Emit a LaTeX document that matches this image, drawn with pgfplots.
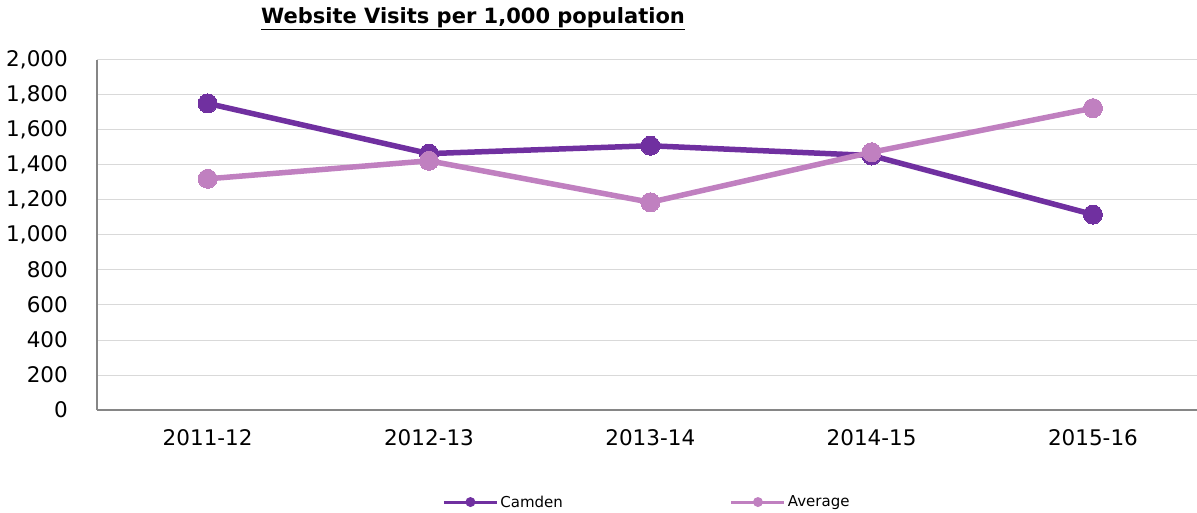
\documentclass[border=0pt]{standalone}
\usepackage{pgfplots}
\pgfplotsset{compat=1.18}
\usepackage{fontspec}
\setmainfont{DejaVu Sans}
\definecolor{camden}{HTML}{7030A0}
\definecolor{avg}{HTML}{C080C0}
\definecolor{axisgray}{HTML}{868686}
\definecolor{gridgray}{HTML}{D9D9D9}
\begin{document}
\begin{tikzpicture}
\useasboundingbox (-97bp,-103bp) rectangle (1100bp,410bp);
\begin{axis}[
  at={(0,0)}, anchor=south west,
  scale only axis, width=1100bp, height=350bp,
  xmin=-0.5, xmax=4.47, ymin=0, ymax=2000,
  axis x line=bottom, axis y line=left,
  axis line style={draw=axisgray, line width=1.5bp, -},
  xtick={0,1,2,3,4},
  xticklabels={2011-12,2012-13,2013-14,2014-15,2015-16},
  ytick={0,200,...,2000},
  ymajorgrids, grid style={draw=gridgray, line width=1bp},
  major tick length=0pt,
  /pgf/number format/assume math mode=true,
  /pgf/number format/1000 sep={,},
  ticklabel style={font=\fontsize{21.5bp}{25bp}\selectfont, text=black},
  yticklabel style={inner sep=0pt, xshift=-29bp},
  xticklabel style={inner sep=0pt, yshift=-19bp},
  clip=false,
  legend columns=2,
  legend style={at={(0.5,-0.263)}, anchor=center, draw=none, fill=none,
    font=\fontsize{15bp}{18bp}\selectfont, column sep=0pt,
    /tikz/every even column/.append style={column sep=165bp}},
]
\addplot[camden, line width=5.5bp, mark=*, mark size=9.5bp, mark options={solid, fill=camden, draw=camden, line width=0pt},
  legend image code/.code={\draw[camden, line width=3bp] (0bp,0bp) -- (53bp,0bp); \fill[camden, draw=none] (26.5bp,0bp) circle (5bp);}]
  coordinates {(0,1752) (1,1465) (2,1510) (3,1454) (4,1117)};
\addlegendentry{Camden}
\addplot[avg, line width=5.5bp, mark=*, mark size=9.5bp, mark options={solid, fill=avg, draw=avg, line width=0pt},
  legend image code/.code={\draw[avg, line width=3bp] (0bp,0bp) -- (53bp,0bp); \fill[avg, draw=none] (26.5bp,0bp) circle (5bp);}]
  coordinates {(0,1321) (1,1424) (2,1187) (3,1473) (4,1725)};
\addlegendentry{Average}
\end{axis}
\node at (376bp,391bp) {\fontsize{21bp}{24bp}\selectfont\bfseries\underline{Website Visits per 1,000 population}};
\end{tikzpicture}
\end{document}
